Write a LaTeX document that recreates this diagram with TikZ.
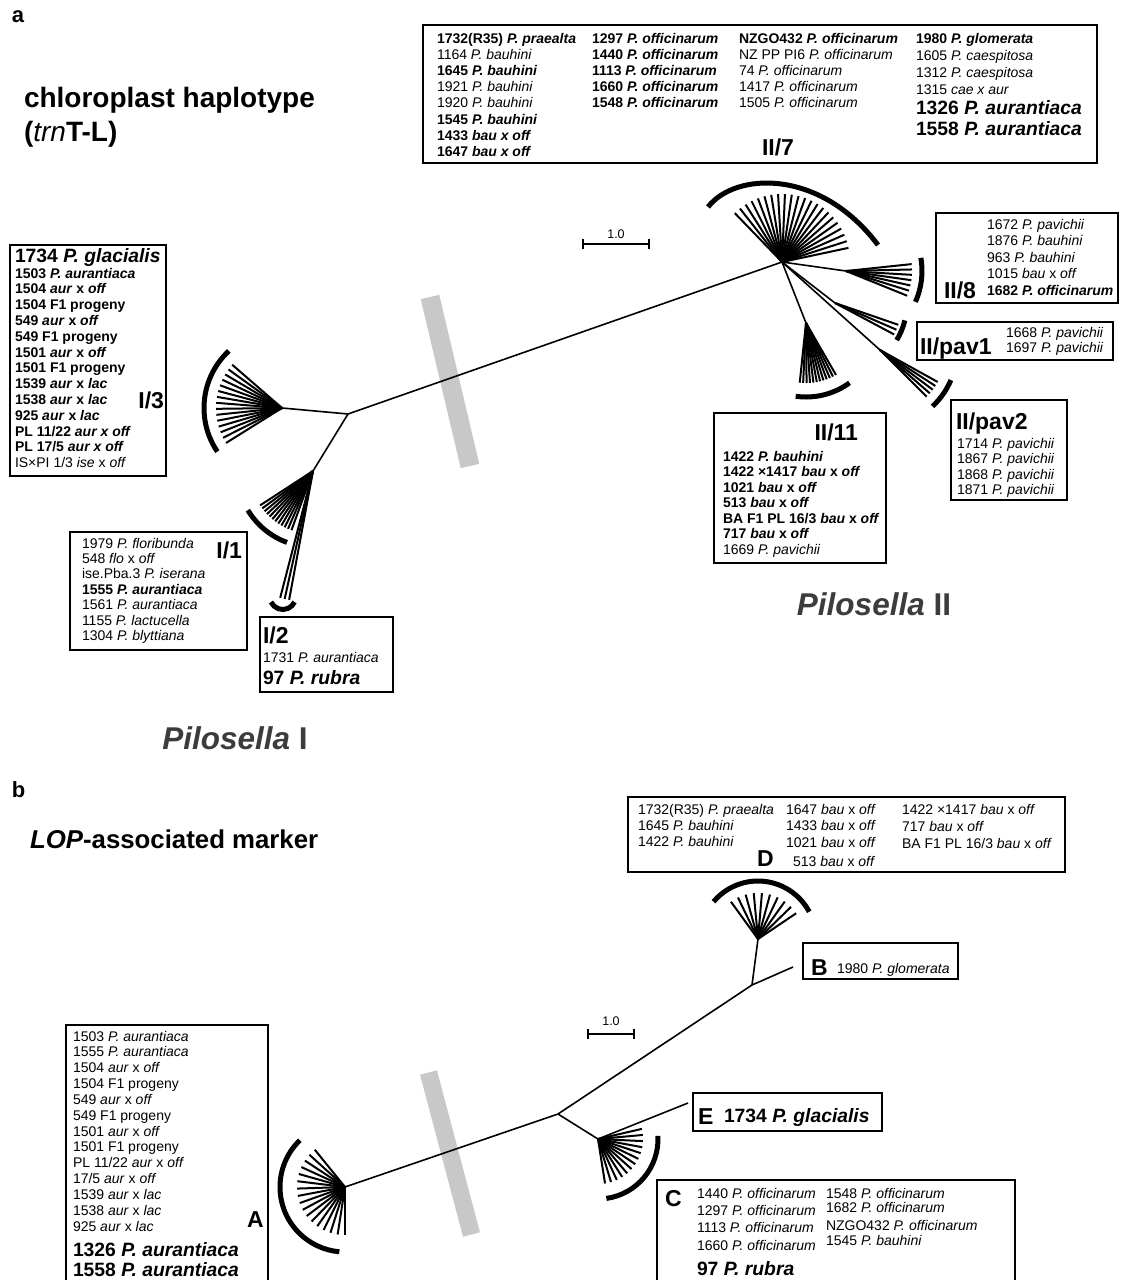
\documentclass[tikz,border=0pt]{standalone}
\usepackage{fontspec}
\setmainfont{Liberation Sans}
\definecolor{barg}{RGB}{200,200,200}
\definecolor{pilgray}{RGB}{60,60,60}
\newcommand\rowsblk[6]{\foreach \t [count=\k] in {#6} {\node[#1, anchor=base west] (#2\k) at (#3, {#4+(\k-1)*#5}) {\t};}}
\newcommand\fanrays[5]{\foreach \i in {0,...,#5} {\pgfmathsetmacro\ang{#2+(#3-#2)*\i/#5} \draw[ray] (#1) -- ++(\ang:#4pt);}}
\newcommand\cladearc[4]{\draw[clade] ([shift={(#2:#4pt)}]#1) arc[start angle=#2, end angle=#3, radius=#4pt];}
\begin{document}
\begin{tikzpicture}[x=1pt,y=-1pt,
  every node/.style={inner sep=0pt, outer sep=0pt},
  sm/.style={font=\fontsize{14}{16}\selectfont},
  smb/.style={font=\fontsize{14}{16}\selectfont\bfseries},
  big/.style={font=\fontsize{19.3}{22}\selectfont\bfseries},
  lab/.style={font=\fontsize{23}{26}\selectfont\bfseries},
  ttl/.style={font=\fontsize{28}{30}\selectfont\bfseries},
  ttlb/.style={font=\fontsize{25.8}{30}\selectfont\bfseries},
  pil/.style={font=\fontsize{31.5}{34}\selectfont\bfseries, text=pilgray},
  box/.style={draw, line width=1.5pt, anchor=north west},
  branch/.style={line width=1.6pt},
  ray/.style={line width=2pt},
  clade/.style={line width=5pt},
  graybar/.style={line width=#1, draw=barg}]
\fill[white] (0,0) rectangle (1121,1280);
\useasboundingbox (0,0) rectangle (1121,1280);

%% ================= PANEL a =================
\node[font=\fontsize{22}{24}\selectfont\bfseries, anchor=base west] (pa) at (12,22) {a};
\node[ttl, anchor=base west] (ttlA1) at (24,107) {chloroplast haplotype};
\node[ttl, anchor=base west] (ttlA2) at (24,141) {(\textit{\mdseries trn}T-L)};

% top box II/7
\node[box, minimum width=674pt, minimum height=138pt] (boxII7) at (423,25) {};
\rowsblk{smb}{tA}{437}{43}{16.2}{1732(R35) \textit{P. praealta}, \mdseries 1164 \textit{P. bauhini}, 1645 \textit{P. bauhini}, \mdseries 1921 \textit{P. bauhini}, \mdseries 1920 \textit{P. bauhini}, 1545 \textit{P. bauhini}, 1433 \textit{bau x off}, 1647 \textit{bau x off}}
\rowsblk{smb}{tB}{592}{43}{16.2}{1297 \textit{P. officinarum}, 1440 \textit{P. officinarum}, 1113 \textit{P. officinarum}, 1660 \textit{P. officinarum}, 1548 \textit{P. officinarum}}
\rowsblk{sm}{tC}{739}{43}{16.2}{\bfseries NZGO432 \textit{P. officinarum}, NZ PP PI6 \textit{P. officinarum}, 74 \textit{P. officinarum}, 1417 \textit{P. officinarum}, 1505 \textit{P. officinarum}}
\rowsblk{sm}{tD}{916}{43}{17}{\bfseries 1980 \textit{P. glomerata}, 1605 \textit{P. caespitosa}, 1312 \textit{P. caespitosa}, 1315 \textit{cae x aur}}
\node[big, anchor=base west] (tD5) at (916,114) {1326 \textit{P. aurantiaca}};
\node[big, anchor=base west] (tD6) at (916,135) {1558 \textit{P. aurantiaca}};
\node[lab, anchor=base west] (lII7) at (762,155) {II/7};

% I/3 box
\node[box, minimum width=156pt, minimum height=231pt] (boxI3) at (10,245) {};
\node[big, anchor=base west] (tI3a) at (15,262) {1734 \textit{P. glacialis}};
\rowsblk{smb}{tI3}{15}{278}{15.8}{1503 \textit{P. aurantiaca}, 1504 \textit{aur} x \textit{off}, 1504 F1 progeny, 549 \textit{aur} x \textit{off}, 549 F1 progeny, 1501 \textit{aur} x \textit{off}, 1501 F1 progeny, 1539 \textit{aur} x \textit{lac}, 1538 \textit{aur} x \textit{lac}, 925 \textit{aur} x \textit{lac}, PL 11/22 \textit{aur x off}, PL 17/5 \textit{aur x off}, \mdseries IS×PI 1/3 \textit{ise} x \textit{off}}
\node[lab, anchor=base east] (lI3) at (164,408) {I/3};

% I/1 box
\node[box, minimum width=177pt, minimum height=118pt] (boxI1) at (70,532) {};
\rowsblk{sm}{tI1}{82}{548}{15.4}{1979 \textit{P. floribunda}, 548 \textit{flo} x \textit{off}, ise.Pba.3 \textit{P. iserana}, \bfseries 1555 \textit{P. aurantiaca}, 1561 \textit{P. aurantiaca}, 1155 \textit{P. lactucella}, 1304 \textit{P. blyttiana}}
\node[lab, anchor=base east] (lI1) at (242,558) {I/1};

% I/2 box
\node[box, minimum width=133pt, minimum height=75pt] (boxI2) at (260,617) {};
\node[lab, anchor=base west] (lI2) at (263,643) {I/2};
\node[sm, anchor=base west] (tI2a) at (263,662) {1731 \textit{P. aurantiaca}};
\node[big, anchor=base west] (tI2b) at (263,684) {97 \textit{P. rubra}};

% II/11 box
\node[box, minimum width=172pt, minimum height=150pt] (boxII11) at (714,413) {};
\node[lab, anchor=base east] (lII11) at (858,440) {II/11};
\rowsblk{smb}{tII11}{723}{461}{15.5}{1422 \textit{P. bauhini}, 1422 ×1417 \textit{bau} x \textit{off}, 1021 \textit{bau} x \textit{off}, 513 \textit{bau} x \textit{off}, BA F1 PL 16/3 \textit{bau} x \textit{off}, 717 \textit{bau} x \textit{off}, \mdseries 1669 \textit{P. pavichii}}

% II/8 box
\node[box, minimum width=182pt, minimum height=90pt] (boxII8) at (936,213) {};
\rowsblk{sm}{tII8}{987}{229}{16.6}{1672 \textit{P. pavichii}, 1876 \textit{P. bauhini}, 963 \textit{P. bauhini}, 1015 \textit{bau} x \textit{off}, \bfseries 1682 \textit{P. officinarum}}
\node[lab, anchor=base west] (lII8) at (944,298) {II/8};

% II/pav1 box
\node[box, minimum width=196pt, minimum height=38pt] (boxP1) at (917,322) {};
\node[lab, anchor=base west] (lP1) at (920,354) {II/pav1};
\rowsblk{sm}{tP1}{1006}{337}{15}{1668 \textit{P. pavichii}, 1697 \textit{P. pavichii}}

% II/pav2 box
\node[box, minimum width=116pt, minimum height=100pt] (boxP2) at (951,400) {};
\node[lab, anchor=base west] (lP2) at (956,429) {II/pav2};
\rowsblk{sm}{tP2}{957}{448}{15.6}{1714 \textit{P. pavichii}, 1867 \textit{P. pavichii}, 1868 \textit{P. pavichii}, 1871 \textit{P. pavichii}}

\node[pil] (pilI) at (235,738) {\textit{Pilosella} I};
\node[pil] (pilII) at (874,604) {\textit{Pilosella} II};

% scale bar a
\coordinate (sa1) at (583,244);
\coordinate (sa2) at (649,244);
\draw[branch] (sa1) -- (sa2);
\draw[branch] (sa1) ++(0,-5) -- ++(0,10);
\draw[branch] (sa2) ++(0,-5) -- ++(0,10);
\node[font=\fontsize{12.5}{14}\selectfont, anchor=base] (sca) at (616,238) {1.0};

% gray bar a
\coordinate (ga1) at (430,297);
\coordinate (ga2) at (470,466);
\draw[graybar=19pt] (ga1) -- (ga2);

% tree a
\coordinate (n3) at (282,408);
\coordinate (jI) at (348,414);
\coordinate (n1) at (313,471);
\coordinate (jII) at (782,262);
\coordinate (n8) at (846,271);
\coordinate (np1) at (835,303);
\coordinate (np2) at (880,350);
\coordinate (n11) at (806,323);
\draw[branch] (n3) -- (jI);
\draw[branch] (jI) -- (n1);
\draw[branch] (jI) -- (jII);
\draw[branch] (jII) -- (n8);
\draw[branch] (jII) -- (np1);
\draw[branch] (jII) -- (np2);
\draw[branch] (jII) -- (n11);
\fanrays{n3}{139}{212}{66}{14}
\fanrays{n1}{213}{250}{63}{11}
\fanrays{n1}{255.5}{259.5}{131}{2}
\fanrays{jII}{12}{134}{68}{21}
\fanrays{n8}{-22}{6}{66}{6}
\fanrays{np1}{-28}{-19}{67}{2}
\fanrays{np2}{-45}{-29}{66}{4}
\fanrays{n11}{264}{300}{60}{11}
\cladearc{n3}{133}{214}{78}
\cladearc{n1}{211}{250}{76}
\draw[clade] (271,602) arc[start angle=205, end angle=335, radius=13pt];
\draw[clade] (708,207) .. controls (735,172) and (820,168) .. (878,245);
\cladearc{n8}{-24}{10}{76}
\cladearc{np1}{-31}{-14}{72}
\cladearc{np2}{-47}{-23}{77}
\cladearc{n11}{262}{306}{74}

%% ================= PANEL b =================
\node[font=\fontsize{22}{24}\selectfont\bfseries, anchor=base west] (pb) at (12,797) {b};
\node[ttlb, anchor=base west] (ttlB) at (30,848) {\textit{LOP}-associated marker};

% D box
\node[box, minimum width=437pt, minimum height=75pt] (boxD) at (628,797) {};
\rowsblk{sm}{tDa}{638}{814}{16}{1732(R35) \textit{P. praealta}, 1645 \textit{P. bauhini}, 1422 \textit{P. bauhini}}
\rowsblk{sm}{tDb}{786}{814}{16.5}{1647 \textit{bau} x \textit{off}, 1433 \textit{bau} x \textit{off}, 1021 \textit{bau} x \textit{off}}
\node[sm, anchor=base west] (tDb4) at (793,866) {513 \textit{bau} x \textit{off}};
\rowsblk{sm}{tDc}{902}{814}{17}{1422 ×1417 \textit{bau} x \textit{off}, 717 \textit{bau} x \textit{off}, BA F1 PL 16/3 \textit{bau} x \textit{off}}
\node[lab, anchor=base west] (lD) at (757,866) {D};

% B box
\node[box, minimum width=155pt, minimum height=36pt] (boxB) at (803,943) {};
\node[lab, anchor=base west] (lB) at (811,975) {B};
\node[sm, anchor=base west] (tB1) at (837,973) {1980 \textit{P. glomerata}};

% E box
\node[box, minimum width=189pt, minimum height=38pt] (boxE) at (693,1093) {};
\node[lab, anchor=base west] (lE) at (698,1124) {E};
\node[big, anchor=base west] (tE1) at (724,1122) {1734 \textit{P. glacialis}};

% A box
\node[box, minimum width=202pt, minimum height=270pt] (boxA) at (66,1025) {};
\rowsblk{sm}{tA}{73}{1041}{15.85}{1503 \textit{P. aurantiaca}, 1555 \textit{P. aurantiaca}, 1504 \textit{aur} x \textit{off}, 1504 F1 progeny, 549 \textit{aur} x \textit{off}, 549 F1 progeny, 1501 \textit{aur} x \textit{off}, 1501 F1 progeny, PL 11/22 \textit{aur} x \textit{off}, 17/5 \textit{aur} x \textit{off}, 1539 \textit{aur} x \textit{lac}, 1538 \textit{aur} x \textit{lac}, 925 \textit{aur} x \textit{lac}}
\node[big, anchor=base west] (tAb1) at (73,1256) {1326 \textit{P. aurantiaca}};
\node[big, anchor=base west] (tAb2) at (73,1276) {1558 \textit{P. aurantiaca}};
\node[lab, anchor=base west] (lA) at (247,1227) {A};

% C box
\node[box, minimum width=358pt, minimum height=110pt] (boxC) at (657,1180) {};
\node[lab, anchor=base west] (lC) at (665,1206) {C};
\node[sm, anchor=base west] (tC1) at (697,1198) {1440 \textit{P. officinarum}};
\node[sm, anchor=base west] (tC2) at (697,1215) {1297 \textit{P. officinarum}};
\node[sm, anchor=base west] (tC3) at (697,1232) {1113 \textit{P. officinarum}};
\node[sm, anchor=base west] (tC4) at (697,1250) {1660 \textit{P. officinarum}};
\node[sm, anchor=base west] (tC5) at (826,1198) {1548 \textit{P. officinarum}};
\node[sm, anchor=base west] (tC6) at (826,1212) {1682 \textit{P. officinarum}};
\node[sm, anchor=base west] (tC7) at (826,1230) {NZGO432 \textit{P. officinarum}};
\node[sm, anchor=base west] (tC8) at (826,1245) {1545 \textit{P. bauhini}};
\node[big, anchor=base west] (tC9) at (697,1275) {97 \textit{P. rubra}};

% scale bar b
\coordinate (sb1) at (588,1034);
\coordinate (sb2) at (634,1034);
\draw[branch] (sb1) -- (sb2);
\draw[branch] (sb1) ++(0,-5) -- ++(0,10);
\draw[branch] (sb2) ++(0,-5) -- ++(0,10);
\node[font=\fontsize{12.5}{14}\selectfont, anchor=base] (scb) at (611,1025) {1.0};

% gray bar b
\coordinate (gb1) at (428.5,1072.5);
\coordinate (gb2) at (471.5,1234.5);
\draw[graybar=17.5pt] (gb1) -- (gb2);

% tree b
\coordinate (nA) at (345,1187);
\coordinate (jb1) at (558,1114);
\coordinate (nC) at (598,1139);
\coordinate (jb2) at (752,985);
\coordinate (nD) at (758,939);
\coordinate (bEnd) at (793,967);
\coordinate (eEnd) at (688,1103);
\draw[branch] (nA) -- (jb1);
\draw[branch] (jb1) -- (jb2);
\draw[branch] (jb1) -- (nC);
\draw[branch] (nC) -- (eEnd);
\draw[branch] (jb2) -- (nD);
\draw[branch] (jb2) -- (bEnd);
\fanrays{nA}{129}{270}{48}{16}
\fanrays{nC}{-81}{13}{45}{12}
\fanrays{nD}{34}{126}{46}{9}
\cladearc{nA}{134}{265}{65}
\cladearc{nC}{-82}{3}{60}
\cladearc{nD}{28}{140}{58}
\end{tikzpicture}
\end{document}
